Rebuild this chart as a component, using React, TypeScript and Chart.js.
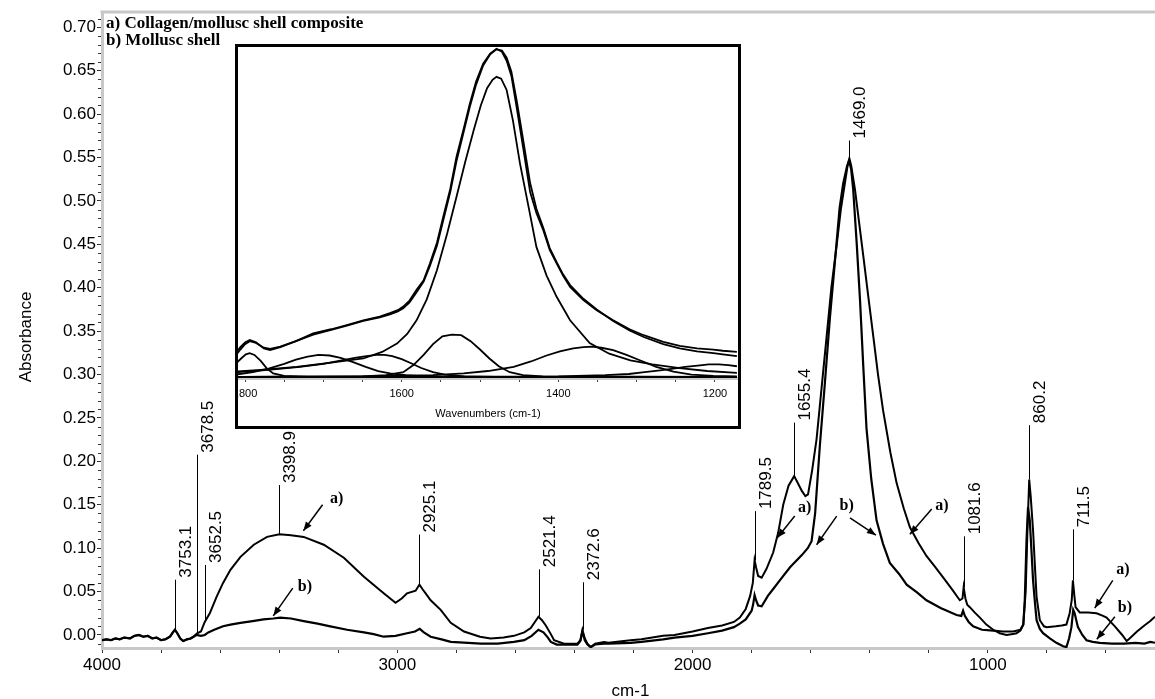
import React, { useEffect, useRef } from 'react';
import { Chart, registerables } from 'chart.js';

Chart.register(...registerables);

const SANS = 'Arial, "Liberation Sans", sans-serif';
const SERIF = '"Times New Roman", "Liberation Serif", serif';

// ---------------- Main spectrum (cm-1 vs absorbance) ----------------
const compositeWavenumbers = [
  4000, 3985, 3970, 3955, 3940, 3925, 3905, 3890, 3875, 3860, 3845, 3830, 3815, 3800, 3785, 3770, 3760, 3753, 3745, 3735,
  3725, 3712, 3700, 3690, 3678, 3665, 3652, 3635, 3612, 3590, 3565, 3531, 3486, 3441, 3399, 3360, 3317, 3249, 3181, 3113,
  3046, 3006, 2985, 2967, 2938, 2925, 2915, 2904, 2887, 2853, 2819, 2774, 2720, 2684, 2640, 2605, 2570, 2548, 2522, 2510,
  2497, 2480, 2469, 2435, 2390, 2380, 2373, 2365, 2356, 2345, 2330, 2300, 2285, 2210, 2173, 2100, 2061, 2000, 1948, 1900,
  1860, 1840, 1820, 1805, 1796, 1790, 1785, 1778, 1766, 1750, 1727, 1710, 1693, 1675, 1656, 1645, 1630, 1618, 1609, 1595,
  1580, 1563, 1546, 1530, 1512, 1498, 1484, 1474, 1469, 1463, 1450, 1436, 1422, 1405, 1388, 1372, 1355, 1330, 1309, 1285,
  1264, 1235, 1208, 1180, 1151, 1120, 1095, 1086, 1082, 1076, 1070, 1061, 1045, 1027, 1005, 982, 960, 937, 915, 903,
  890, 880, 872, 866, 860, 855, 847, 840, 835, 824, 810, 801, 770, 750, 734, 723, 716, 712, 707, 703,
  689, 660, 632, 610, 598, 570, 545, 530, 520, 495, 470, 450, 434,
];
const compositeAbsorbance = [
  -0.006, -0.005, -0.006, -0.004, -0.005, -0.003, -0.004, -0.001, 0.0, -0.002, -0.001, -0.004, -0.003, -0.006, -0.005, -0.002, 0.003, 0.006, 0.002, -0.004,
  -0.007, -0.005, -0.004, -0.002, 0.002, 0.004, 0.015, 0.025, 0.044, 0.06, 0.075, 0.09, 0.104, 0.113, 0.116, 0.115, 0.113, 0.104, 0.089, 0.067,
  0.048, 0.037, 0.042, 0.048, 0.051, 0.058, 0.053, 0.048, 0.04, 0.029, 0.014, 0.004, -0.002, -0.004, -0.003, -0.001, 0.003, 0.008, 0.021, 0.017,
  0.011, 0.001, -0.006, -0.01, -0.01, -0.006, 0.006, -0.004, -0.01, -0.014, -0.01, -0.008, -0.009, -0.006, -0.005, -0.001, 0.0, 0.004, 0.008, 0.011,
  0.015, 0.02, 0.03, 0.045, 0.06, 0.086, 0.078, 0.068, 0.066, 0.076, 0.095, 0.118, 0.15, 0.172, 0.183, 0.176, 0.166, 0.16, 0.162, 0.19,
  0.226, 0.285, 0.344, 0.4, 0.449, 0.49, 0.521, 0.543, 0.549, 0.541, 0.513, 0.475, 0.437, 0.39, 0.344, 0.3, 0.259, 0.21, 0.175, 0.146,
  0.124, 0.106, 0.091, 0.079, 0.066, 0.052, 0.04, 0.042, 0.055, 0.042, 0.035, 0.032, 0.026, 0.02, 0.012, 0.006, 0.002, 0.0, 0.001, 0.002,
  0.005, 0.012, 0.05, 0.12, 0.179, 0.16, 0.121, 0.075, 0.044, 0.017, 0.01, 0.009, 0.01, 0.011, 0.012, 0.025, 0.04, 0.063, 0.045, 0.032,
  0.026, 0.026, 0.025, 0.022, 0.02, 0.01, 0.0, -0.007, -0.004, 0.004, 0.011, 0.016, 0.021,
];

const shellWavenumbers = [
  4000, 3985, 3970, 3955, 3940, 3925, 3905, 3890, 3875, 3860, 3845, 3830, 3815, 3800, 3785, 3770, 3760, 3753, 3745, 3735,
  3725, 3712, 3700, 3690, 3680, 3665, 3652, 3640, 3620, 3590, 3565, 3531, 3490, 3453, 3420, 3396, 3360, 3317, 3270, 3227,
  3170, 3113, 3080, 3046, 3006, 2967, 2940, 2924, 2910, 2887, 2850, 2819, 2760, 2717, 2660, 2605, 2570, 2545, 2522, 2505,
  2490, 2480, 2460, 2435, 2390, 2380, 2373, 2365, 2356, 2345, 2330, 2300, 2285, 2210, 2173, 2100, 2061, 2000, 1948, 1900,
  1860, 1840, 1820, 1800, 1795, 1790, 1785, 1778, 1766, 1745, 1727, 1700, 1670, 1630, 1610, 1597, 1585, 1569, 1552, 1535,
  1518, 1502, 1490, 1477, 1470, 1463, 1456, 1444, 1433, 1422, 1411, 1395, 1377, 1355, 1332, 1300, 1275, 1240, 1208, 1160,
  1106, 1090, 1084, 1078, 1065, 1050, 1020, 982, 950, 914, 890, 880, 875, 869, 864, 858, 852, 847, 840, 835,
  824, 813, 790, 768, 745, 734, 725, 717, 711, 706, 700, 695, 680, 666, 645, 621, 580, 540, 500, 470,
  450, 434,
];
const shellAbsorbance = [
  -0.006, -0.005, -0.006, -0.004, -0.005, -0.003, -0.004, -0.001, 0.0, -0.002, -0.001, -0.004, -0.003, -0.006, -0.005, -0.002, 0.003, 0.006, 0.002, -0.004,
  -0.007, -0.005, -0.004, -0.002, 0.0, -0.001, 0.0, 0.003, 0.006, 0.01, 0.012, 0.014, 0.016, 0.018, 0.019, 0.02, 0.019, 0.016, 0.013, 0.01,
  0.006, 0.003, 0.001, -0.002, -0.001, 0.002, 0.004, 0.007, 0.003, -0.002, -0.005, -0.008, -0.009, -0.01, -0.01, -0.008, -0.006, -0.001, 0.006, 0.003,
  -0.003, -0.008, -0.011, -0.011, -0.011, -0.007, 0.004, -0.006, -0.011, -0.014, -0.011, -0.01, -0.01, -0.009, -0.008, -0.005, -0.003, -0.001, 0.002, 0.005,
  0.009, 0.013, 0.018, 0.028, 0.035, 0.046, 0.04, 0.034, 0.033, 0.045, 0.053, 0.065, 0.078, 0.092, 0.1, 0.108, 0.14, 0.218, 0.29, 0.365,
  0.43, 0.492, 0.52, 0.54, 0.546, 0.537, 0.513, 0.45, 0.386, 0.31, 0.238, 0.18, 0.132, 0.105, 0.083, 0.07, 0.058, 0.049, 0.04, 0.031,
  0.023, 0.022, 0.028, 0.022, 0.015, 0.01, 0.006, 0.005, 0.004, 0.004, 0.006, 0.012, 0.04, 0.11, 0.147, 0.132, 0.095, 0.063, 0.035, 0.017,
  0.007, 0.002, -0.004, -0.009, -0.013, -0.014, -0.004, 0.009, 0.029, 0.025, 0.016, 0.009, 0.0, -0.006, -0.008, -0.009, -0.01, -0.01, -0.009, -0.01,
  -0.008, -0.009,
];

// axis ticks
const xTickValues = [4000, 3800, 3600, 3400, 3200, 3000, 2800, 2600, 2400, 2200, 2000, 1800, 1600, 1400, 1200, 1000, 800, 600];
const xLabelledTicks = [4000, 3000, 2000, 1000];
const yTickValues = [0, 0.05, 0.1, 0.15, 0.2, 0.25, 0.3, 0.35, 0.4, 0.45, 0.5, 0.55, 0.6, 0.65, 0.7];

// peak annotations
const peakLabels = ['3753.1', '3678.5', '3652.5', '3398.9', '2925.1', '2521.4', '2372.6', '1789.5', '1655.4', '1469.0', '1081.6', '860.2', '711.5'];
const peakPositions = [3753.1, 3678.5, 3652.5, 3398.9, 2925.1, 2521.4, 2372.6, 1789.5, 1655.4, 1469.0, 1081.6, 860.2, 711.5];
const peakHeights = [0.006, 0.002, 0.015, 0.116, 0.058, 0.021, 0.006, 0.086, 0.183, 0.549, 0.055, 0.179, 0.063];
const peakLabelBases = [0.066, 0.21, 0.083, 0.175, 0.118, 0.078, 0.063, 0.145, 0.247, 0.572, 0.116, 0.244, 0.124];

// a)/b) callouts
const calloutTexts = ['a)', 'b)', 'a)', 'b)', 'a)', 'a)', 'b)'];
const calloutWavenumbers = [3205, 3313, 1620, 1478, 1156, 543, 536];
const calloutAbsorbance = [0.157, 0.056, 0.146, 0.149, 0.149, 0.075, 0.031];
const arrowFromWavenumbers = [3253, 3354, 1654, 1512, 1467, 1190, 577, 570];
const arrowFromAbsorbance = [0.15, 0.054, 0.137, 0.137, 0.135, 0.145, 0.063, 0.021];
const arrowToWavenumbers = [3318, 3420, 1713, 1580, 1379, 1264, 638, 631];
const arrowToAbsorbance = [0.12, 0.022, 0.112, 0.104, 0.115, 0.116, 0.031, -0.005];

const legendLines = ['a) Collagen/mollusc shell composite', 'b) Mollusc shell'];

// ---------------- Inset: curve-fitted 1800–1170 cm-1 region ----------------
const insetTickValues = [1800, 1750, 1700, 1650, 1600, 1550, 1500, 1450, 1400, 1350, 1300, 1250, 1200];
const insetLabelledTicks = [1800, 1600, 1400, 1200];

const envelopeWn = [1812, 1806, 1800, 1794, 1786, 1776, 1768, 1755, 1735, 1713, 1690, 1670, 1649, 1628, 1615, 1605, 1598, 1590, 1581, 1572, 1564, 1555, 1547, 1538, 1530, 1521, 1513, 1505, 1496, 1487, 1479, 1472, 1466, 1460, 1453, 1445, 1436, 1428, 1419, 1411, 1402, 1394, 1385, 1368, 1351, 1330, 1309, 1291, 1266, 1245, 1223, 1202, 1190, 1172];
const envelopeAbs = [0.04, 0.05, 0.058, 0.062, 0.058, 0.048, 0.045, 0.05, 0.06, 0.073, 0.08, 0.087, 0.095, 0.101, 0.107, 0.112, 0.118, 0.128, 0.146, 0.162, 0.19, 0.225, 0.268, 0.315, 0.369, 0.415, 0.458, 0.495, 0.525, 0.542, 0.55, 0.545, 0.53, 0.505, 0.45, 0.385, 0.31, 0.275, 0.245, 0.213, 0.19, 0.17, 0.151, 0.129, 0.112, 0.095, 0.08, 0.07, 0.059, 0.052, 0.048, 0.046, 0.044, 0.042];
const fitSumAbs = [0.036, 0.046, 0.055, 0.06, 0.057, 0.049, 0.047, 0.051, 0.06, 0.071, 0.079, 0.086, 0.094, 0.1, 0.105, 0.11, 0.115, 0.125, 0.142, 0.16, 0.186, 0.22, 0.262, 0.31, 0.362, 0.41, 0.453, 0.49, 0.522, 0.541, 0.549, 0.547, 0.535, 0.512, 0.462, 0.398, 0.325, 0.282, 0.249, 0.216, 0.192, 0.172, 0.154, 0.131, 0.113, 0.094, 0.078, 0.067, 0.055, 0.048, 0.043, 0.04, 0.038, 0.035];
const band1480Wn = [1812, 1780, 1734, 1690, 1649, 1625, 1606, 1593, 1581, 1568, 1555, 1542, 1530, 1519, 1508, 1499, 1491, 1484, 1479, 1473, 1466, 1458, 1449, 1438, 1428, 1415, 1402, 1385, 1360, 1335, 1308, 1280, 1245, 1210, 1172];
const band1480Abs = [0.009, 0.012, 0.017, 0.024, 0.031, 0.042, 0.056, 0.072, 0.095, 0.13, 0.179, 0.24, 0.302, 0.36, 0.414, 0.455, 0.484, 0.498, 0.503, 0.5, 0.481, 0.43, 0.358, 0.285, 0.218, 0.17, 0.134, 0.095, 0.057, 0.039, 0.028, 0.021, 0.015, 0.01, 0.007];
const band1794Wn = [1812, 1805, 1799, 1794, 1788, 1780, 1772, 1764, 1750, 1720, 1600, 1172];
const band1794Abs = [0.022, 0.031, 0.038, 0.04, 0.037, 0.027, 0.014, 0.006, 0.002, 0.0, 0.0, 0.0];
const band1706Wn = [1812, 1790, 1770, 1750, 1735, 1720, 1706, 1692, 1678, 1662, 1646, 1630, 1615, 1595, 1570, 1500, 1172];
const band1706Abs = [0.004, 0.008, 0.014, 0.022, 0.029, 0.034, 0.037, 0.036, 0.032, 0.025, 0.017, 0.01, 0.006, 0.003, 0.001, 0.0, 0.0];
const band1626Wn = [1812, 1770, 1730, 1700, 1680, 1660, 1645, 1632, 1622, 1612, 1600, 1588, 1575, 1560, 1545, 1520, 1480, 1172];
const band1626Abs = [0.008, 0.012, 0.017, 0.022, 0.027, 0.032, 0.035, 0.037, 0.037, 0.035, 0.03, 0.023, 0.015, 0.008, 0.004, 0.001, 0.0, 0.0];
const band1530Wn = [1812, 1650, 1620, 1598, 1585, 1572, 1560, 1548, 1536, 1524, 1512, 1500, 1488, 1476, 1462, 1445, 1420, 1172];
const band1530Abs = [0.0, 0.001, 0.003, 0.008, 0.02, 0.037, 0.055, 0.068, 0.071, 0.07, 0.06, 0.046, 0.031, 0.018, 0.008, 0.003, 0.001, 0.0];
const band1357Wn = [1812, 1650, 1560, 1521, 1490, 1457, 1435, 1415, 1398, 1381, 1368, 1357, 1345, 1330, 1313, 1296, 1275, 1253, 1230, 1202, 1172];
const band1357Abs = [0.0, 0.001, 0.003, 0.006, 0.01, 0.017, 0.026, 0.036, 0.043, 0.048, 0.05, 0.051, 0.049, 0.045, 0.037, 0.028, 0.017, 0.009, 0.004, 0.002, 0.001];
const band1200Wn = [1812, 1400, 1340, 1310, 1290, 1270, 1253, 1238, 1222, 1208, 1195, 1183, 1172];
const band1200Abs = [0.0, 0.001, 0.003, 0.005, 0.008, 0.011, 0.014, 0.017, 0.019, 0.021, 0.021, 0.02, 0.018];

const toPoints = (wn: number[], abs: number[]) => wn.map((w, i) => ({ x: w, y: abs[i] }));

function drawArrow(ctx: CanvasRenderingContext2D, x1: number, y1: number, x2: number, y2: number) {
  ctx.beginPath();
  ctx.moveTo(x1, y1);
  ctx.lineTo(x2, y2);
  ctx.stroke();
  const ang = Math.atan2(y2 - y1, x2 - x1);
  const len = 9;
  const half = 3.5;
  ctx.beginPath();
  ctx.moveTo(x2, y2);
  ctx.lineTo(x2 - len * Math.cos(ang) + half * Math.sin(ang), y2 - len * Math.sin(ang) - half * Math.cos(ang));
  ctx.lineTo(x2 - len * Math.cos(ang) - half * Math.sin(ang), y2 - len * Math.sin(ang) + half * Math.cos(ang));
  ctx.closePath();
  ctx.fill();
}

const annotationPlugin = {
  id: 'spectrumAnnotations',
  afterDatasetsDraw(chart: any) {
    const { ctx, chartArea, scales } = chart;
    const xs = scales.x;
    const ys = scales.y;
    ctx.save();

    // top frame line
    ctx.strokeStyle = '#c8c8c8';
    ctx.lineWidth = 3;
    ctx.beginPath();
    ctx.moveTo(chartArea.left - 1.5, chartArea.top);
    ctx.lineTo(chartArea.right, chartArea.top);
    ctx.stroke();

    // minor y ticks
    ctx.strokeStyle = '#333';
    ctx.lineWidth = 1;
    for (let k = -1; k <= 71; k++) {
      if (k % 5 === 0) continue;
      const py = Math.round(ys.getPixelForValue(k / 100)) + 0.5;
      ctx.beginPath();
      ctx.moveTo(chartArea.left - 4, py);
      ctx.lineTo(chartArea.left - 1, py);
      ctx.stroke();
    }

    // peak labels
    ctx.fillStyle = '#000';
    ctx.strokeStyle = '#000';
    ctx.lineWidth = 1;
    ctx.font = `17px ${SANS}`;
    peakLabels.forEach((lab, i) => {
      const px = Math.round(xs.getPixelForValue(peakPositions[i])) + 0.5;
      const pyPeak = ys.getPixelForValue(peakHeights[i]);
      const pyBase = ys.getPixelForValue(peakLabelBases[i]);
      ctx.beginPath();
      ctx.moveTo(px, pyPeak);
      ctx.lineTo(px, pyBase + 2);
      ctx.stroke();
      ctx.save();
      ctx.translate(px + 2.5, pyBase);
      ctx.rotate(-Math.PI / 2);
      ctx.textAlign = 'left';
      ctx.textBaseline = 'top';
      ctx.fillText(lab, 0, 0);
      ctx.restore();
    });

    // arrows
    ctx.lineWidth = 1.5;
    arrowFromWavenumbers.forEach((w, i) => {
      drawArrow(
        ctx,
        xs.getPixelForValue(w),
        ys.getPixelForValue(arrowFromAbsorbance[i]),
        xs.getPixelForValue(arrowToWavenumbers[i]),
        ys.getPixelForValue(arrowToAbsorbance[i])
      );
    });

    // a) / b) callouts
    ctx.font = `bold 16px ${SERIF}`;
    ctx.textAlign = 'center';
    ctx.textBaseline = 'middle';
    calloutTexts.forEach((t, i) => {
      ctx.fillText(t, xs.getPixelForValue(calloutWavenumbers[i]), ys.getPixelForValue(calloutAbsorbance[i]));
    });

    // legend text in top-left corner
    ctx.font = `bold 17px ${SERIF}`;
    ctx.textAlign = 'left';
    ctx.textBaseline = 'alphabetic';
    ctx.fillText(legendLines[0], chartArea.left + 4, chartArea.top + 16);
    ctx.fillText(legendLines[1], chartArea.left + 4, chartArea.top + 33);

    // axis titles
    ctx.font = `17px ${SANS}`;
    ctx.textAlign = 'center';
    ctx.textBaseline = 'middle';
    ctx.fillText('cm-1', (chartArea.left + chartArea.right) / 2 + 2, chart.height - 8);
    ctx.save();
    ctx.translate(26, (chartArea.top + chartArea.bottom) / 2 + 7);
    ctx.rotate(-Math.PI / 2);
    ctx.fillText('Absorbance', 0, 0);
    ctx.restore();

    ctx.restore();
  },
};

export default function App() {
  const mainRef = useRef<HTMLCanvasElement | null>(null);
  const insetRef = useRef<HTMLCanvasElement | null>(null);

  useEffect(() => {
    Chart.defaults.font.family = SANS;
    const lineStyle = { borderColor: '#000', pointRadius: 0, tension: 0, fill: false };

    const main = new Chart(mainRef.current as HTMLCanvasElement, {
      type: 'line',
      data: {
        datasets: [
          { label: legendLines[0], data: toPoints(compositeWavenumbers, compositeAbsorbance), borderWidth: 2, ...lineStyle },
          { label: legendLines[1], data: toPoints(shellWavenumbers, shellAbsorbance), borderWidth: 2.2, ...lineStyle },
        ],
      },
      options: {
        responsive: false,
        animation: false,
        devicePixelRatio: 1,
        layout: { padding: { top: 12, right: 0, bottom: 0, left: 0 } },
        plugins: { legend: { display: false }, tooltip: { enabled: false } },
        scales: {
          x: {
            type: 'linear',
            reverse: true,
            min: 434,
            max: 4000,
            afterBuildTicks: (s: any) => {
              s.ticks = xTickValues.map((v) => ({ value: v }));
            },
            afterFit: (s: any) => {
              s.height = 51;
              s.paddingLeft = 0;
              s.paddingRight = 0;
            },
            ticks: {
              autoSkip: false,
              maxRotation: 0,
              minRotation: 0,
              padding: 2,
              color: '#000',
              font: { family: SANS, size: 17 },
              callback: (v: any) => (xLabelledTicks.includes(Number(v)) ? String(v) : ''),
            },
            grid: { drawOnChartArea: false, drawTicks: true, tickLength: 5, color: '#333', lineWidth: 1 },
            border: { display: true, color: '#c8c8c8', width: 3 },
          },
          y: {
            type: 'linear',
            min: -0.015,
            max: 0.7177,
            afterBuildTicks: (s: any) => {
              s.ticks = yTickValues.map((v) => ({ value: v }));
            },
            afterFit: (s: any) => {
              s.width = 102;
              s.paddingTop = 0;
              s.paddingBottom = 0;
            },
            ticks: {
              padding: 1,
              color: '#000',
              font: { family: SANS, size: 17 },
              callback: (v: any) => Number(v).toFixed(2),
            },
            grid: { drawOnChartArea: false, drawTicks: true, tickLength: 5, color: '#333', lineWidth: 1 },
            border: { display: true, color: '#c8c8c8', width: 3 },
          },
        },
      },
      plugins: [annotationPlugin],
    } as any);

    const insetSeries = [
      toPoints(envelopeWn, envelopeAbs),
      toPoints(envelopeWn, fitSumAbs),
      toPoints(band1480Wn, band1480Abs),
      toPoints(band1794Wn, band1794Abs),
      toPoints(band1706Wn, band1706Abs),
      toPoints(band1626Wn, band1626Abs),
      toPoints(band1530Wn, band1530Abs),
      toPoints(band1357Wn, band1357Abs),
      toPoints(band1200Wn, band1200Abs),
    ];

    const inset = new Chart(insetRef.current as HTMLCanvasElement, {
      type: 'line',
      data: {
        datasets: insetSeries.map((d, i) => ({ label: `curve ${i}`, data: d, borderWidth: 1.8, ...lineStyle })),
      },
      options: {
        responsive: false,
        animation: false,
        devicePixelRatio: 1,
        layout: { padding: 0 },
        plugins: { legend: { display: false }, tooltip: { enabled: false } },
        scales: {
          x: {
            type: 'linear',
            reverse: true,
            min: 1170.6,
            max: 1809,
            afterBuildTicks: (s: any) => {
              s.ticks = insetTickValues.map((v) => ({ value: v }));
            },
            afterFit: (s: any) => {
              s.height = 48;
              s.paddingLeft = 0;
              s.paddingRight = 0;
            },
            ticks: {
              autoSkip: false,
              maxRotation: 0,
              minRotation: 0,
              padding: 5,
              color: '#000',
              font: { family: SANS, size: 11 },
              callback: (v: any) => (insetLabelledTicks.includes(Number(v)) ? String(v) : ''),
            },
            grid: { drawOnChartArea: false, drawTicks: true, tickLength: 4, color: '#444', lineWidth: 1 },
            border: { display: true, color: '#c8c8c8', width: 3 },
            title: {
              display: true,
              text: 'Wavenumbers (cm-1)',
              color: '#000',
              font: { family: SANS, size: 11, lineHeight: 1 },
              padding: { top: 0, bottom: 7 },
            },
          },
          y: { display: false, min: -0.0017, max: 0.553 },
        },
      },
    } as any);

    return () => {
      main.destroy();
      inset.destroy();
    };
  }, []);

  return (
    <div style={{ position: 'fixed', left: 0, top: 0, width: 1155, height: 699, background: '#fff', overflow: 'hidden' }}>
      <canvas ref={mainRef} width={1155} height={699} style={{ position: 'absolute', left: 0, top: 0, width: 1155, height: 699 }} />
      <div
        style={{
          position: 'absolute',
          left: 235,
          top: 44,
          width: 506,
          height: 385,
          boxSizing: 'border-box',
          border: '3px solid #000',
          background: '#fff',
        }}
      >
        <canvas ref={insetRef} width={500} height={379} style={{ display: 'block', width: 500, height: 379 }} />
      </div>
    </div>
  );
}
